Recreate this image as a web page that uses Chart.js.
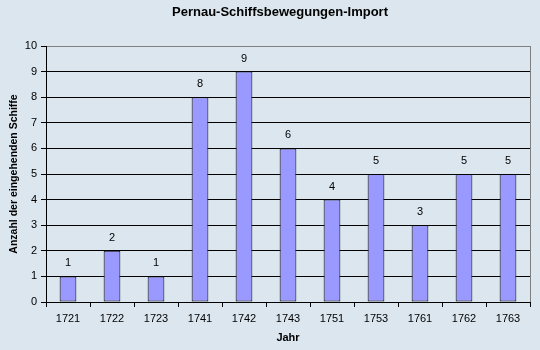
<!DOCTYPE html>
<html>
<head>
<meta charset="utf-8">
<script src="https://cdn.jsdelivr.net/npm/chart.js@4"></script>
<style>
  html, body { margin: 0; padding: 0; background: #dbe6ee; }
  #wrap { width: 540px; height: 350px; }
</style>
</head>
<body>
<div id="wrap"><canvas id="importChart" width="540" height="350"></canvas></div>
<script>
// Jahre und Anzahl der eingehenden Schiffe
const jahre = ["1721", "1722", "1723", "1741", "1742", "1743", "1751", "1753", "1761", "1762", "1763"];
const schiffe = [1, 2, 1, 8, 9, 6, 4, 5, 3, 5, 5];
const yTicks = [0, 1, 2, 3, 4, 5, 6, 7, 8, 9, 10];

const fontName = "'Liberation Sans', Arial, sans-serif";

// Titel, Rahmen rechts und Werte über den Balken
const extras = {
  id: "extras",
  afterDraw(chart) {
    const ctx = chart.ctx;
    const area = chart.chartArea;
    ctx.save();
    ctx.fillStyle = "#000";
    ctx.font = "bold 13px " + fontName;
    ctx.textAlign = "center";
    ctx.textBaseline = "middle";
    ctx.fillText("Pernau-Schiffsbewegungen-Import", 280, 12);

    ctx.strokeStyle = "#808080";
    ctx.lineWidth = 1;
    ctx.beginPath();
    ctx.moveTo(area.right + 0.5, area.top);
    ctx.lineTo(area.right + 0.5, area.bottom);
    ctx.stroke();

    ctx.font = "11px " + fontName;
    const meta = chart.getDatasetMeta(0);
    meta.data.forEach(function (bar, i) {
      ctx.fillText(String(schiffe[i]), bar.x, bar.y - 13);
    });
    ctx.restore();
  }
};

const importData = {
  labels: jahre,
  datasets: [{
    label: "Import",
    data: schiffe,
    backgroundColor: "#9999ff",
    borderColor: "#000",
    borderWidth: 1,
    borderSkipped: false,
    barPercentage: 0.38,
    categoryPercentage: 1
  }]
};

const importConfig = {
  type: "bar",
  data: importData,
  options: {
    responsive: false,
    animation: false,
    layout: { padding: { top: 46, right: 10, bottom: 0, left: 0 } },
    plugins: {
      legend: { display: false },
      title: { display: false },
      tooltip: { enabled: false }
    },
    scales: {
      x: {
        grid: { drawOnChartArea: false, offset: true, color: "#000", tickLength: 5 },
        border: { color: "#000" },
        ticks: { color: "#000", font: { family: fontName, size: 11 }, padding: 5 },
        title: {
          display: true, text: "Jahr", color: "#000",
          font: { family: fontName, size: 11, weight: "bold" },
          padding: { top: 0, bottom: 5 }
        },
        afterFit(scale) { scale.height = 48; }
      },
      y: {
        min: 0,
        max: 10,
        afterBuildTicks(scale) { scale.ticks = yTicks.map(v => ({ value: v })); },
        grid: {
          color: ctx => (ctx.tick && ctx.tick.value === 10 ? "#808080" : "#000"),
          tickColor: "#000",
          tickLength: 5
        },
        border: { color: "#000" },
        ticks: { color: "#000", font: { family: fontName, size: 11 }, padding: 4 },
        title: {
          display: true, text: "Anzahl der eingehenden Schiffe", color: "#000",
          font: { family: fontName, size: 10.5, weight: "bold" },
          padding: { top: 8, bottom: 0 }
        },
        afterFit(scale) { scale.width = 46; }
      }
    }
  },
  plugins: [extras]
};

var importChart = new Chart(document.getElementById("importChart"), importConfig);
</script>
</body>
</html>
